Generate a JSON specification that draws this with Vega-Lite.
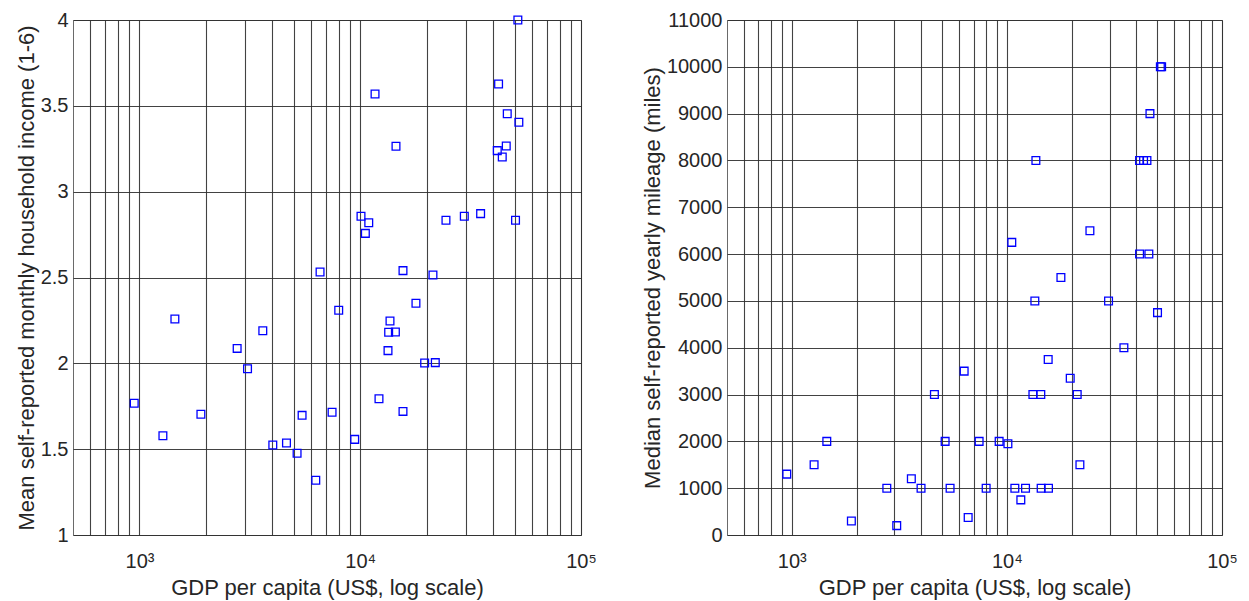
{
  "$schema": "https://vega.github.io/schema/vega-lite/v6.json",
  "background": "white",
  "padding": {"left": 14, "top": 9, "right": 5, "bottom": 5},
  "datasets": {
    "inc": [
      {"gdp": 947, "income": 1.767}, {"gdp": 1277, "income": 1.578}, {"gdp": 1447, "income": 2.258},
      {"gdp": 1898, "income": 1.703}, {"gdp": 2770, "income": 2.087}, {"gdp": 3087, "income": 1.969},
      {"gdp": 3620, "income": 2.19}, {"gdp": 4018, "income": 1.524}, {"gdp": 4634, "income": 1.536},
      {"gdp": 5176, "income": 1.476}, {"gdp": 5453, "income": 1.697}, {"gdp": 6290, "income": 1.319},
      {"gdp": 6577, "income": 2.532}, {"gdp": 7455, "income": 1.715}, {"gdp": 7990, "income": 2.309},
      {"gdp": 9440, "income": 1.557}, {"gdp": 10080, "income": 2.857}, {"gdp": 10550, "income": 2.757},
      {"gdp": 10930, "income": 2.819}, {"gdp": 11670, "income": 3.569}, {"gdp": 12160, "income": 1.794},
      {"gdp": 13360, "income": 2.074}, {"gdp": 13450, "income": 2.181}, {"gdp": 13640, "income": 2.247},
      {"gdp": 14430, "income": 2.183}, {"gdp": 14520, "income": 3.264}, {"gdp": 15620, "income": 2.54},
      {"gdp": 15620, "income": 1.72}, {"gdp": 17880, "income": 2.35}, {"gdp": 19580, "income": 2.002},
      {"gdp": 21350, "income": 2.515}, {"gdp": 21880, "income": 2.004}, {"gdp": 24450, "income": 2.833},
      {"gdp": 29610, "income": 2.857}, {"gdp": 35100, "income": 2.872}, {"gdp": 41760, "income": 3.239},
      {"gdp": 42330, "income": 3.627}, {"gdp": 43990, "income": 3.202}, {"gdp": 45860, "income": 3.266},
      {"gdp": 46340, "income": 3.454}, {"gdp": 50520, "income": 2.833}, {"gdp": 51760, "income": 4.0},
      {"gdp": 52300, "income": 3.404}
    ],
    "mil": [
      {"gdp": 948, "miles": 1300}, {"gdp": 1270, "miles": 1500}, {"gdp": 1455, "miles": 2000},
      {"gdp": 1893, "miles": 300}, {"gdp": 2766, "miles": 1000}, {"gdp": 3076, "miles": 200},
      {"gdp": 3597, "miles": 1200}, {"gdp": 3990, "miles": 1000}, {"gdp": 4604, "miles": 3000},
      {"gdp": 5164, "miles": 2000}, {"gdp": 5445, "miles": 1000}, {"gdp": 6330, "miles": 3500},
      {"gdp": 6607, "miles": 375}, {"gdp": 7430, "miles": 2000}, {"gdp": 8010, "miles": 1000},
      {"gdp": 9205, "miles": 2000}, {"gdp": 10110, "miles": 1950}, {"gdp": 10890, "miles": 1000},
      {"gdp": 11610, "miles": 750}, {"gdp": 12210, "miles": 1000}, {"gdp": 13210, "miles": 3000},
      {"gdp": 13490, "miles": 5000}, {"gdp": 13640, "miles": 8000}, {"gdp": 14380, "miles": 3000},
      {"gdp": 14430, "miles": 1000}, {"gdp": 15560, "miles": 3750}, {"gdp": 15610, "miles": 1000},
      {"gdp": 17830, "miles": 5500}, {"gdp": 19700, "miles": 3350}, {"gdp": 21230, "miles": 3000},
      {"gdp": 21850, "miles": 1500}, {"gdp": 24320, "miles": 6500}, {"gdp": 29690, "miles": 5000},
      {"gdp": 34990, "miles": 4000}, {"gdp": 41380, "miles": 6000}, {"gdp": 41380, "miles": 8000},
      {"gdp": 43190, "miles": 8000}, {"gdp": 44780, "miles": 8000}, {"gdp": 45710, "miles": 6000},
      {"gdp": 46240, "miles": 9000}, {"gdp": 50150, "miles": 4750}, {"gdp": 51700, "miles": 10000},
      {"gdp": 52400, "miles": 10000}, {"gdp": 10540, "miles": 6250}
    ]
  },
  "bounds": "flush",
  "spacing": 146,
  "hconcat": [
    {
      "width": 508,
      "height": 515,
      "data": {"name": "inc"},
      "mark": {"type": "point", "shape": "square", "filled": false, "color": "#0000ff", "size": 60, "strokeWidth": 1.3, "opacity": 1},
      "encoding": {
        "x": {
          "field": "gdp", "type": "quantitative",
          "scale": {"type": "log", "domain": [500, 100000], "nice": false},
          "axis": {
            "title": "GDP per capita (US$, log scale)",
            "values": [600, 700, 800, 900, 1000, 2000, 3000, 4000, 5000, 6000, 7000, 8000, 9000, 10000, 20000, 30000, 40000, 50000, 60000, 70000, 80000, 90000, 100000],
            "labelExpr": "datum.value == 1000 ? '10³' : datum.value == 10000 ? '10⁴' : datum.value == 100000 ? '10⁵' : ''",
            "labelPadding": 16, "titlePadding": 6, "labelOverlap": false, "labelFlush": false
          }
        },
        "y": {
          "field": "income", "type": "quantitative",
          "scale": {"domain": [1, 4], "nice": false, "zero": false},
          "axis": {
            "title": "Mean self-reported monthly household income (1-6)",
            "values": [1, 1.5, 2, 2.5, 3, 3.5, 4],
            "labelExpr": "format(datum.value, '~g')",
            "labelPadding": 5, "titlePadding": 2, "labelFlush": false
          }
        }
      }
    },
    {
      "width": 495,
      "height": 515,
      "data": {"name": "mil"},
      "mark": {"type": "point", "shape": "square", "filled": false, "color": "#0000ff", "size": 60, "strokeWidth": 1.3, "opacity": 1},
      "encoding": {
        "x": {
          "field": "gdp", "type": "quantitative",
          "scale": {"type": "log", "domain": [500, 100000], "nice": false},
          "axis": {
            "title": "GDP per capita (US$, log scale)",
            "values": [600, 700, 800, 900, 1000, 2000, 3000, 4000, 5000, 6000, 7000, 8000, 9000, 10000, 20000, 30000, 40000, 50000, 60000, 70000, 80000, 90000, 100000],
            "labelExpr": "datum.value == 1000 ? '10³' : datum.value == 10000 ? '10⁴' : datum.value == 100000 ? '10⁵' : ''",
            "labelPadding": 16, "titlePadding": 6, "labelOverlap": false, "labelFlush": false
          }
        },
        "y": {
          "field": "miles", "type": "quantitative",
          "scale": {"domain": [0, 11000], "nice": false},
          "axis": {
            "title": "Median self-reported yearly mileage (miles)",
            "values": [0, 1000, 2000, 3000, 4000, 5000, 6000, 7000, 8000, 9000, 10000, 11000],
            "format": "d",
            "labelPadding": 5, "titlePadding": 2, "labelFlush": false
          }
        }
      }
    }
  ],
  "config": {
    "font": "Liberation Sans",
    "view": {"stroke": "#6a6a6a", "strokeWidth": 1},
    "axis": {
      "grid": true, "gridColor": "#2e2e2e", "gridWidth": 1.1, "gridOpacity": 0.9,
      "ticks": false, "domain": false,
      "labelFont": "Liberation Sans", "labelFontSize": 20, "labelColor": "#262626",
      "titleFont": "Liberation Sans", "titleFontSize": 22, "titleFontWeight": "normal", "titleColor": "#262626"
    }
  }
}
